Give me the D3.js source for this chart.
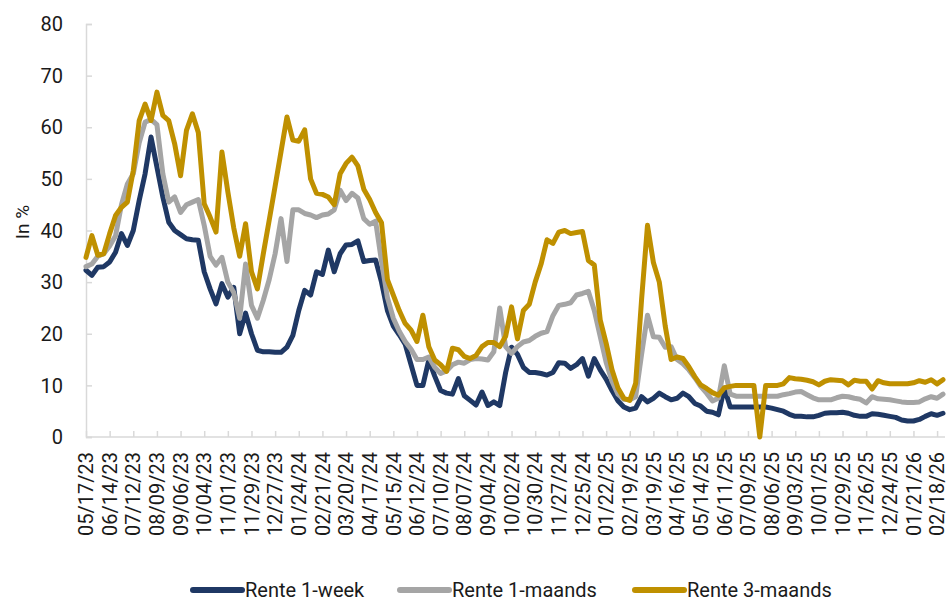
<!DOCTYPE html>
<html>
<head>
<meta charset="utf-8">
<script src="https://cdn.jsdelivr.net/npm/d3@7"></script>
<style>
  body { margin: 0; background: #fff; }
  svg text { font-family: Roboto, "Noto Sans", sans-serif; fill: #1a1a1a; }
</style>
</head>
<body>
<div class="chart"></div>
<script>
// weekly observations, first one on 05/17/23
const startDate = "2023-05-17";

const tickLabels = ["05/17/23","06/14/23","07/12/23","08/09/23","09/06/23","10/04/23","11/01/23","11/29/23","12/27/23",
  "01/24/24","02/21/24","03/20/24","04/17/24","05/15/24","06/12/24","07/10/24","08/07/24","09/04/24","10/02/24",
  "10/30/24","11/27/24","12/25/24","01/22/25","02/19/25","03/19/25","04/16/25","05/14/25","06/11/25","07/09/25",
  "08/06/25","09/03/25","10/01/25","10/29/25","11/26/25","12/24/25","01/21/26","02/18/26"];

const seriesNames = ["Rente 1-week", "Rente 1-maands", "Rente 3-maands"];

const week1 = [32.3,31.3,32.9,33,33.9,35.8,39.4,37.1,40,45.8,51,58.1,52.3,46.5,41.6,40,39.2,38.4,38.2,38.1,
  32,28.7,25.8,29.7,27.1,29,20,24,20,16.8,16.5,16.5,16.4,16.4,17.4,19.7,24.5,28.4,27.5,32,
  31.5,36.2,32,35.5,37.2,37.3,38,34,34.2,34.3,30,24.5,21.5,19.8,18,14,10,10,14.9,11.8,
  9,8.5,8.3,11.3,8,7.1,6.2,8.7,6.1,6.8,6.1,12.5,17.4,16,13.5,12.5,12.5,12.3,12,12.5,
  14.4,14.3,13.3,14,15.2,11.8,15.2,13,11.2,9,7,5.8,5.3,5.6,7.8,6.8,7.5,8.5,7.8,7.2,
  7.5,8.5,7.8,6.5,6,5,4.8,4.3,9.5,5.8,5.8,5.8,5.8,5.8,5.8,5.8,5.6,5.3,5,4.4,
  4,4,3.9,3.9,4.2,4.6,4.7,4.7,4.8,4.6,4.2,4,4,4.5,4.4,4.2,4,3.8,3.3,3.1,
  3.1,3.4,4,4.5,4.2,4.6];

const maand1 = [33,33.5,35,35.5,37,39,45,49,51,57,61,61.5,60.5,51,45.5,46.5,43.5,45,45.5,46,
  41,35,33.3,34.8,30,28,23,33.5,25.5,23,26.5,30.5,35.5,42.3,34,44,44,43.3,43,42.5,
  43,43.2,44,47.8,45.8,47.2,46.3,42.3,41.2,41.8,34,27,23,20.5,18.5,17,15,15,15.5,13.5,
  12.3,12.8,14,14.5,14.3,15,15.2,15.1,14.9,16.5,25,17.5,16.2,17.5,18.4,18.7,19.5,20.1,20.4,23.5,
  25.5,25.7,26,27.5,27.8,28.2,24.5,19.5,14.5,10.8,8.3,7.3,7.2,7.8,16,23.6,19.4,19.3,17.4,17.5,
  15,14.2,13,11.5,9.8,8.5,7,7.5,13.8,8.3,7.9,7.9,7.9,7.9,7.9,7.9,7.9,7.9,8.2,8.4,
  8.7,8.8,8.2,7.6,7.2,7.2,7.2,7.6,7.9,7.8,7.5,7.3,6.6,7.8,7.4,7.3,7.2,7,6.8,6.7,
  6.7,6.8,7.4,7.8,7.5,8.3];

const maand3 = [34.8,39,35.2,35.5,39.4,42.9,44.5,45.5,51.6,61.3,64.5,61.3,66.8,62.3,61.3,56.8,50.6,59.4,62.6,59,
  45.2,42.6,39.7,55.2,47.5,40.5,35,41.3,32,28.7,35.5,42,48.6,55.3,62,57.5,57.3,59.5,50,47.2,
  47,46.5,45,51,53,54.2,52.5,48,46,43.5,41.5,30.5,27.5,24.5,22,20.7,18.5,23.6,17.5,14.9,
  14,12.7,17.2,16.9,15.6,15.2,15.8,17.5,18.3,18.3,17.5,19.5,25.2,19,24.5,25.7,30,33.5,38.2,37.5,
  39.7,40,39.4,39.6,39.8,34.2,33.3,22.7,18.2,13,9.5,7.5,7.1,10.4,26.6,41,33.8,30,21.5,15,
  15.5,15.2,13.6,11.7,10.1,9.4,8.6,8.1,9.5,9.8,10,10,10,10,0,10,10,10,10.3,11.5,
  11.3,11.2,11,10.7,10.1,10.8,11.1,11,10.9,10.1,11,10.8,10.8,9.3,10.9,10.5,10.3,10.3,10.3,10.3,
  10.5,10.9,10.6,11.1,10.3,11.1];

const colors = ["#1f3864", "#a5a5a5", "#bf9000"];

const width = 949;
const height = 601;
const margin = {top: 24, right: 6, bottom: 164, left: 86};

const parse = d3.utcParse("%Y-%m-%d");
const parseLabel = d3.utcParse("%m/%d/%y");
const t0 = parse(startDate);
const dates = week1.map((d, i) => d3.utcDay.offset(t0, i * 7));

const svg = d3.select('.chart')
    .append('svg')
    .attr('width', width)
    .attr('height', height);

const x = d3.scaleUtc()
    .domain([t0, dates[dates.length - 1]])
    .range([margin.left, margin.left + 857]);

const y = d3.scaleLinear()
    .domain([0, 80])
    .range([height - margin.bottom, margin.top]);

const axisColor = "#d9d9d9";

// y axis
const yAxis = svg.append('g')
    .attr('transform', `translate(${margin.left},0)`)
    .call(d3.axisRight(y).tickValues(d3.range(0, 81, 10)).tickSize(6).tickFormat(''));
yAxis.select('.domain').attr('stroke', axisColor).attr('stroke-width', 1.5);
yAxis.selectAll('.tick line').attr('stroke', axisColor).attr('stroke-width', 1.5);

svg.selectAll('text.ylab')
    .data(d3.range(0, 81, 10))
    .enter()
    .append('text')
    .attr('class', 'ylab')
    .attr('x', 63)
    .attr('y', d => y(d))
    .attr('dy', '0.36em')
    .attr('text-anchor', 'end')
    .attr('font-size', 20)
    .text(d => d);

svg.append('text')
    .attr('transform', `translate(29,222) rotate(-90)`)
    .attr('text-anchor', 'middle')
    .attr('font-size', 19)
    .text('In %');

// x axis
const tickDates = tickLabels.map(parseLabel);
const xAxis = svg.append('g')
    .attr('transform', `translate(0,${y(0)})`)
    .call(d3.axisTop(x).tickValues(tickDates).tickSize(6).tickSizeOuter(0).tickFormat(''));
xAxis.select('.domain').attr('stroke', axisColor).attr('stroke-width', 1.5)
    .attr('d', `M${margin.left},0H${width - 4}`);
xAxis.selectAll('.tick line').attr('stroke', axisColor).attr('stroke-width', 1.5);

svg.selectAll('text.xlab')
    .data(tickLabels)
    .enter()
    .append('text')
    .attr('class', 'xlab')
    .attr('transform', d => `translate(${x(parseLabel(d))},452) rotate(-90)`)
    .attr('dy', '0.36em')
    .attr('text-anchor', 'end')
    .attr('font-size', 20)
    .text(d => d);

// lines
const line = d3.line()
    .x((d, i) => x(dates[i]))
    .y(d => y(d));

[week1, maand1, maand3].forEach((s, k) => {
    svg.append('path')
        .datum(s)
        .attr('fill', 'none')
        .attr('stroke', colors[k])
        .attr('stroke-width', 5)
        .attr('stroke-linejoin', 'round')
        .attr('stroke-linecap', 'round')
        .attr('d', line);
});

// legend
const legendX = [193, 400, 635];
const legend = svg.selectAll('g.legend')
    .data(seriesNames)
    .enter()
    .append('g')
    .attr('class', 'legend')
    .attr('transform', (d, i) => `translate(${legendX[i]},590)`);
legend.append('line')
    .attr('x1', 0).attr('x2', 49)
    .attr('stroke', (d, i) => colors[i])
    .attr('stroke-width', 6)
    .attr('stroke-linecap', 'round');
legend.append('text')
    .attr('x', 52)
    .attr('dy', '0.36em')
    .attr('font-size', 20)
    .text(d => d);
</script>
</body>
</html>
